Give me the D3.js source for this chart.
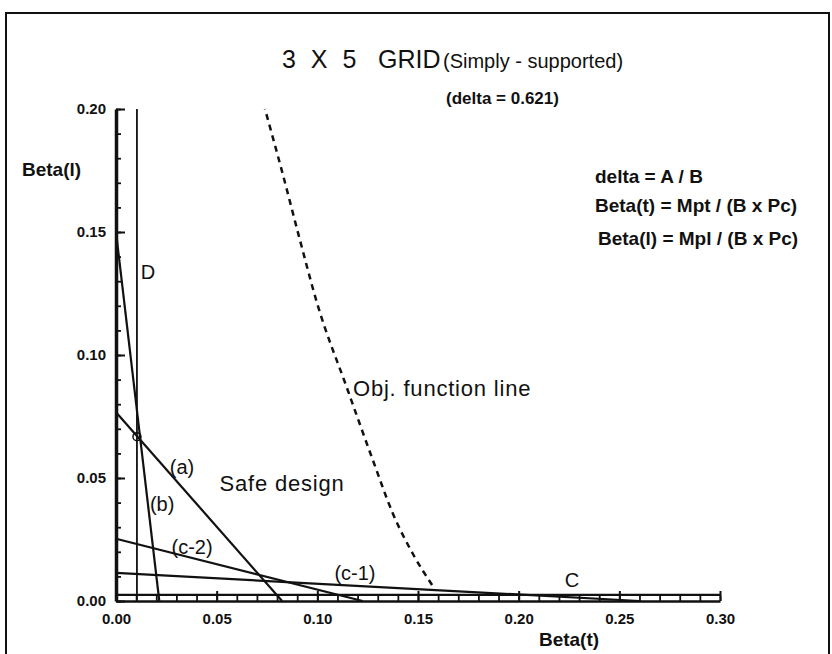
<!DOCTYPE html>
<html>
<head>
<meta charset="utf-8">
<script src="https://cdn.jsdelivr.net/npm/d3@7"></script>
<style>
  body { margin: 0; background: #fff; }
  text { font-family: "Liberation Sans", Arial, sans-serif; fill: #111; }
</style>
</head>
<body>
<script>
var svg_width  = 832;
var svg_height = 654;

// axis ticks
var xMajor = [0, 0.05, 0.10, 0.15, 0.20, 0.25, 0.30];
var yMajor = [0, 0.05, 0.10, 0.15, 0.20];
var xMinor = d3.range(0, 0.3001, 0.01);
var yMinor = d3.range(0, 0.2001, 0.01);

// constraint lines  [Beta(t), Beta(l)]
var lineA  = [[0, 0.0767], [0.0825, 0]];
var lineB  = [[0, 0.150], [0.0215, 0]];
var lineC1 = [[0, 0.0114], [0.26, 0]];
var lineC2 = [[0, 0.0253], [0.1225, 0]];
var lineC  = [[0, 0.0025], [0.30, 0.0025]];
var lineD  = [[0.0104, 0], [0.0104, 0.20]];

// objective function line (dashed)
var objLine = [[0.074, 0.200], [0.083, 0.173], [0.0914, 0.1466], [0.0999, 0.121],
               [0.1148, 0.0864], [0.1277, 0.057], [0.1376, 0.0354], [0.1475, 0.0191],
               [0.157, 0.0065]];

// optimum point
var optPoint = [0.0104, 0.0668];

// labels on the plot
var plotLabels = [
  {text: "(a)",  x: 0.0328, y: 0.0545, anchor: "middle", size: 20},
  {text: "(b)",  x: 0.0229, y: 0.0395, anchor: "middle", size: 20},
  {text: "(c-2)", x: 0.0378, y: 0.0218, anchor: "middle", size: 20},
  {text: "(c-1)", x: 0.1187, y: 0.0112, anchor: "middle", size: 20},
  {text: "Safe design", x: 0.0825, y: 0.0477, anchor: "middle", size: 22},
  {text: "C",    x: 0.2265, y: 0.0085, anchor: "middle", size: 20},
  {text: "D",    x: 0.0159, y: 0.1336, anchor: "middle", size: 20},
  {text: "Obj. function line", x: 0.1177, y: 0.0864, anchor: "start", size: 22}
];

var formulas = ["delta = A / B", "Beta(t) = Mpt / (B x Pc)", "Beta(l) = Mpl / (B x Pc)"];

var svg = d3.select('body').append('svg')
            .attr('width', svg_width)
            .attr('height', svg_height);

// page frame
svg.append("rect")
   .attr("x", 6).attr("y", 13)
   .attr("width", 823).attr("height", 700)
   .attr("fill", "none").attr("stroke", "#111").attr("stroke-width", 2);

var x = d3.scaleLinear().domain([0, 0.30]).range([116, 720]);
var y = d3.scaleLinear().domain([0, 0.20]).range([601, 109]);

var fmt = d3.format(".2f");

// x axis: minor then major ticks pointing up
svg.append("g")
   .attr("transform", "translate(0," + y(0) + ")")
   .call(d3.axisBottom(x).tickValues(xMinor).tickSize(-5).tickSizeOuter(0).tickFormat(""))
   .call(g => g.select(".domain").remove())
   .selectAll("line").attr("stroke", "#111").attr("stroke-width", 1.8);

var xAxis = svg.append("g")
   .attr("transform", "translate(0," + y(0) + ")")
   .call(d3.axisBottom(x).tickValues(xMajor).tickSize(-10).tickSizeOuter(0).tickPadding(12).tickFormat(fmt));
xAxis.select(".domain").attr("stroke", "#111").attr("stroke-width", 2.5);
xAxis.selectAll("line").attr("stroke", "#111").attr("stroke-width", 2);
xAxis.selectAll("text")
     .style("font-size", "15px").style("font-weight", "bold")
     .style("font-family", "'Liberation Sans', Arial, sans-serif");

// y axis
svg.append("g")
   .attr("transform", "translate(" + x(0) + ",0)")
   .call(d3.axisLeft(y).tickValues(yMinor).tickSize(-5).tickSizeOuter(0).tickFormat(""))
   .call(g => g.select(".domain").remove())
   .selectAll("line").attr("stroke", "#111").attr("stroke-width", 1.8);

var yAxis = svg.append("g")
   .attr("transform", "translate(" + x(0) + ",0)")
   .call(d3.axisLeft(y).tickValues(yMajor).tickSize(-9).tickSizeOuter(0).tickPadding(10).tickFormat(fmt));
yAxis.select(".domain").attr("stroke", "#111").attr("stroke-width", 3.5);
yAxis.selectAll("line").attr("stroke", "#111").attr("stroke-width", 2);
yAxis.selectAll("text")
     .style("font-size", "15px").style("font-weight", "bold")
     .style("font-family", "'Liberation Sans', Arial, sans-serif");

var line = d3.line().x(d => x(d[0])).y(d => y(d[1]));

var constraints = [lineA, lineB, lineC1, lineC2, lineC];
svg.append("g").selectAll("path")
   .data(constraints)
   .enter().append("path")
   .attr("d", line)
   .attr("fill", "none")
   .attr("stroke", "#111")
   .attr("stroke-width", 2.2);

svg.append("path")
   .attr("d", line(lineD))
   .attr("fill", "none")
   .attr("stroke", "#111")
   .attr("stroke-width", 1.8);

// objective function (dashed curve)
svg.append("path")
   .attr("d", d3.line().x(d => x(d[0])).y(d => y(d[1])).curve(d3.curveMonotoneX)(objLine.slice().reverse()))
   .attr("fill", "none")
   .attr("stroke", "#111")
   .attr("stroke-width", 2.5)
   .attr("stroke-dasharray", "6,5");

svg.append("circle")
   .attr("cx", x(optPoint[0])).attr("cy", y(optPoint[1]))
   .attr("r", 4)
   .attr("fill", "none").attr("stroke", "#111").attr("stroke-width", 1.5);

svg.append("g").selectAll("text")
   .data(plotLabels)
   .enter().append("text")
   .attr("x", d => x(d.x))
   .attr("y", d => y(d.y))
   .attr("dy", "0.35em")
   .attr("text-anchor", d => d.anchor)
   .style("font-size", d => d.size + "px")
   .style("letter-spacing", d => d.size > 20 ? "0.8px" : "0px")
   .text(d => d.text);

// axis titles
svg.append("text")
   .attr("x", 569).attr("y", 646)
   .attr("text-anchor", "middle")
   .style("font-size", "19px").style("font-weight", "bold")
   .text("Beta(t)");

svg.append("text")
   .attr("x", 22).attr("y", 176)
   .style("font-size", "19px").style("font-weight", "bold")
   .text("Beta(l)");

// title
svg.append("text").attr("x", 282).attr("y", 68)
   .style("font-size", "25px").style("letter-spacing", "4px")
   .text("3 X 5");
svg.append("text").attr("x", 378).attr("y", 68)
   .style("font-size", "25px")
   .text("GRID");
svg.append("text").attr("x", 443).attr("y", 68)
   .style("font-size", "20px")
   .text("(Simply - supported)");
svg.append("text").attr("x", 446).attr("y", 104)
   .style("font-size", "17px").style("font-weight", "bold")
   .text("(delta = 0.621)");

// definitions
svg.append("g").selectAll("text")
   .data(formulas)
   .enter().append("text")
   .attr("x", (d, i) => i == 2 ? 598 : 595)
   .attr("y", (d, i) => [183, 212, 245][i])
   .style("font-size", "19px").style("font-weight", "bold")
   .text(d => d);
</script>
</body>
</html>
